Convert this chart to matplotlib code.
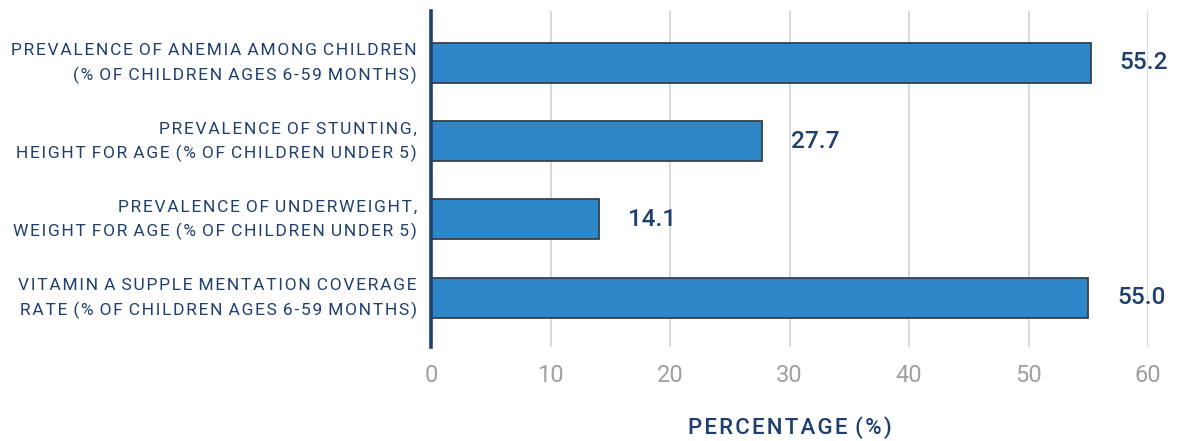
import matplotlib
matplotlib.use("Agg")
import matplotlib.pyplot as plt

# data
categories = [
    "PREVALENCE OF ANEMIA AMONG CHILDREN\n(% OF CHILDREN AGES 6-59 MONTHS)",
    "PREVALENCE OF STUNTING,\nHEIGHT FOR AGE (% OF CHILDREN UNDER 5)",
    "PREVALENCE OF UNDERWEIGHT,\nWEIGHT FOR AGE (% OF CHILDREN UNDER 5)",
    "VITAMIN A SUPPLE MENTATION COVERAGE\nRATE (% OF CHILDREN AGES 6-59 MONTHS)",
]
values = [55.2, 27.7, 14.1, 55.0]
xticks = [0, 10, 20, 30, 40, 50, 60]

navy = "#1f3f6e"
bar_color = "#2d87c8"

plt.rcParams["font.family"] = ["Roboto", "DejaVu Sans"]


def spaced(s):
    # rough letter spacing with hair spaces (one per gap, one after each space)
    out = ""
    for i, c in enumerate(s):
        out += c
        if i + 1 < len(s) and c != "\n" and s[i + 1] not in " \n":
            out += "\u200a"
    return out


fig = plt.figure(figsize=(11.92, 4.41), dpi=100)
ax = fig.add_axes([431 / 1192, 1 - 347 / 441, (1148 - 431) / 1192, (347 - 11) / 441])

ypos = list(range(len(categories)))
ax.barh(ypos, values, height=0.51, color=bar_color, edgecolor="#3a3f48",
        linewidth=1.3, zorder=3)

ax.set_xlim(0, 60)
ax.set_ylim(3.63, -0.66)

for y, v, cat in zip(ypos, values, categories):
    ax.text(v + 2.4, y, f"{v:.1f}", va="center", ha="left", fontsize=17.5,
            fontweight="medium", color=navy, zorder=4)
    ax.text(-14 / 717, y + 0.01, spaced(cat), transform=ax.get_yaxis_transform(),
            ha="right", va="center", multialignment="right", fontsize=12.5,
            color=navy, linespacing=1.63)

ax.set_xticks(xticks)
ax.set_xticklabels([str(t) for t in xticks], fontsize=17, color="#a0a0a0")
ax.set_yticks([])
ax.tick_params(axis="x", length=0, pad=12)

ax.grid(axis="x", color="#d9d9d9", linewidth=1.4, zorder=0)
for s in ["top", "right", "bottom"]:
    ax.spines[s].set_visible(False)
ax.spines["left"].set_color(navy)
ax.spines["left"].set_linewidth(2.6)
ax.spines["left"].set_zorder(5)

ax.set_xlabel(spaced("PERCENTAGE (%)"), fontsize=16, fontweight="medium",
              color=navy, labelpad=21)

fig.savefig("out.png", dpi=100)
